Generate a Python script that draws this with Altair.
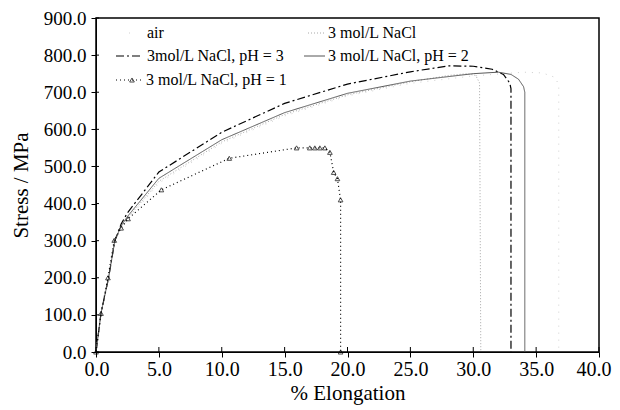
import altair as alt
import pandas as pd

# ---------------- data ----------------
air_x = [0, 0.4, 1.0, 1.5, 2.0, 2.5, 5.0, 10.0, 15.0, 20.0, 25.0, 30.0, 34.0, 35.5, 36.5, 36.8, 36.8]
air_y = [0, 105, 200, 300, 335, 355, 455, 562, 636, 690, 724, 744, 754, 752, 740, 720, 0]

nacl_x = [0, 0.4, 1.0, 1.5, 2.0, 2.5, 5.0, 10.0, 15.0, 20.0, 25.0, 28.0, 29.5, 30.2, 30.5, 30.6]
nacl_y = [0, 105, 200, 300, 338, 360, 460, 566, 640, 693, 728, 745, 750, 745, 725, 0]

ph3_x = [0, 0.4, 1.0, 1.5, 2.0, 2.5, 5.0, 10.0, 15.0, 20.0, 25.0, 28.0, 30.0, 31.5, 32.4, 32.9, 33.0, 33.0]
ph3_y = [0, 105, 200, 300, 345, 375, 485, 592, 670, 722, 755, 771, 770, 762, 748, 725, 710, 0]

ph2_x = [0, 0.4, 1.0, 1.5, 2.0, 2.5, 5.0, 10.0, 15.0, 20.0, 25.0, 30.0, 32.0, 33.0, 33.6, 34.0, 34.1, 34.1]
ph2_y = [0, 105, 200, 300, 340, 365, 468, 572, 645, 697, 730, 750, 754, 748, 735, 715, 700, 0]

ph1_x = [0, 0.4, 0.95, 1.45, 2.0, 2.55, 5.2, 10.6, 15.95, 17.0, 17.4, 17.8, 18.2, 18.6, 18.9, 19.2, 19.45, 19.45]
ph1_y = [0, 104, 200, 301, 334, 359, 437, 522, 550, 550, 550, 550, 550, 538, 484, 467, 410, 0]

series_names = ["air", "3 mol/L NaCl", "3mol/L NaCl, pH = 3", "3 mol/L NaCl, pH = 2", "3 mol/L NaCl, pH = 1"]
series_x = [air_x, nacl_x, ph3_x, ph2_x, ph1_x]
series_y = [air_y, nacl_y, ph3_y, ph2_y, ph1_y]

x_ticks = [0, 5, 10, 15, 20, 25, 30, 35, 40]
y_ticks = [0, 100, 200, 300, 400, 500, 600, 700, 800, 900]

# ---------------- styles ----------------
colors = ["#d0d0d0", "#a8a8a8", "#000000", "#555555", "#000000"]
dashes = [[1, 6], [1, 2], [8, 3, 2, 3], [1, 0], [1, 3]]
widths = [1, 1, 1.2, 1, 1.2]

W, H = 503, 334
FONT = "Liberation Serif"

rows = []
for name, xs, ys in zip(series_names, series_x, series_y):
    for i, (a, b) in enumerate(zip(xs, ys)):
        rows.append({"series": name, "x": a, "y": b, "idx": i})
df = pd.DataFrame(rows)

xscale = alt.Scale(domain=[0, 40], nice=False)
yscale = alt.Scale(domain=[0, 900], nice=False)

axis_common = dict(
    format=".1f", grid=False, domainColor="black", tickColor="black",
    labelFont=FONT, labelColor="black", labelOverlap=False,
    titleFont=FONT, titleFontSize=21, titleFontWeight="normal", titleColor="black",
)
x_axis = alt.Axis(values=x_ticks, tickSize=5, labelPadding=2, titlePadding=3, labelFontSize=20,
                  labelFlush=True, labelFlushOffset=12, **axis_common)
y_axis = alt.Axis(values=y_ticks, tickSize=5, labelPadding=5, titlePadding=12, labelFontSize=19,
                  labelFlush=False, **axis_common)


def xenc(field):
    return alt.X(field, scale=xscale, title="% Elongation", axis=x_axis)


def yenc(field):
    return alt.Y(field, scale=yscale, title="Stress / MPa", axis=y_axis)


layers = []
for name, c, d, w in zip(series_names, colors, dashes, widths):
    layers.append(
        alt.Chart(df[df.series == name])
        .mark_line(color=c, strokeDash=d, strokeWidth=w, clip=True)
        .encode(x=xenc("x:Q"), y=yenc("y:Q"), order="idx:Q")
    )

triangles = (
    alt.Chart(df[df.series == series_names[4]])
    .mark_point(shape="triangle-up", color="black", size=22, strokeWidth=1, filled=False)
    .encode(x=xenc("x:Q"), y=yenc("y:Q"))
)

# inner tick halves
xt = pd.DataFrame({"v": x_ticks})
yt = pd.DataFrame({"v": y_ticks})
inner_x = alt.Chart(xt).mark_rule(color="black").encode(
    x=xenc("v:Q"), y=alt.value(H), y2=alt.value(H - 5))
inner_y = alt.Chart(yt).mark_rule(color="black").encode(
    y=yenc("v:Q"), x=alt.value(0), x2=alt.value(3))

# ---------------- manual legend ----------------
leg_text_x = [51, 232, 51, 232, 50]
leg_y = [15, 15, 38, 38, 62]
leg_sym_x1 = [33, 212, 20, 208, 20]
leg_sym_x2 = [36, 229, 47, 229, 47]
legend_layers = []
for i, name in enumerate(series_names):
    legend_layers.append(
        alt.Chart(pd.DataFrame({"t": [name]})).mark_text(
            align="left", baseline="middle", font=FONT, fontSize=16, color="black"
        ).encode(text="t:N", x=alt.value(leg_text_x[i]), y=alt.value(leg_y[i]))
    )
    legend_layers.append(
        alt.Chart(pd.DataFrame({"t": [name]})).mark_rule(
            color=colors[i], strokeDash=dashes[i], strokeWidth=widths[i]
        ).encode(x=alt.value(leg_sym_x1[i]), x2=alt.value(leg_sym_x2[i]), y=alt.value(leg_y[i]))
    )
legend_layers.append(
    alt.Chart(pd.DataFrame({"t": [series_names[4]]})).mark_point(
        shape="triangle-up", color="black", size=22, strokeWidth=1, filled=False
    ).encode(x=alt.value(36), y=alt.value(leg_y[4]))
)

chart = (
    alt.layer(*layers, triangles, inner_x, inner_y, *legend_layers)
    .properties(
        width=W,
        height=H,
        autosize=alt.AutoSizeParams(type="none"),
        padding={"left": 88, "top": 10, "right": 13, "bottom": 57},
        background="white",
    )
    .configure_view(stroke="black", strokeWidth=1.5)
)

chart.save("out.html", embed_options={"renderer": "svg", "actions": False})
